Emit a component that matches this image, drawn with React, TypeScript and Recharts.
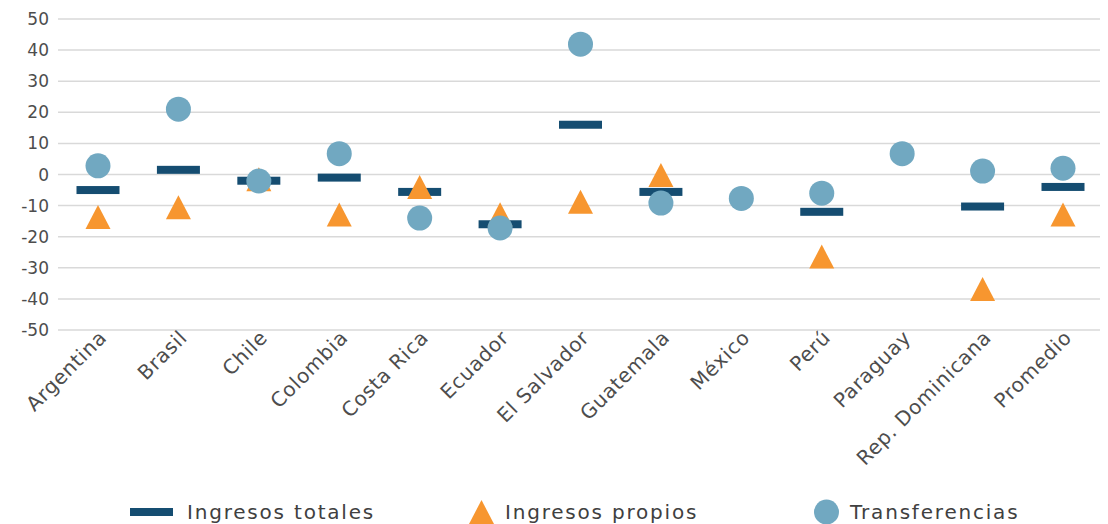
import React from 'react';
import { ComposedChart, Scatter, XAxis, YAxis, CartesianGrid } from 'recharts';

const paises = [
  'Argentina', 'Brasil', 'Chile', 'Colombia', 'Costa Rica', 'Ecuador', 'El Salvador',
  'Guatemala', 'México', 'Perú', 'Paraguay', 'Rep. Dominicana', 'Promedio'
];
const ingresosTotales = [-5, 1.5, -2, -1, -5.6, -16, 16, -5.6, null, -12, null, -10.3, -4];
const ingresosPropios = [-13.7, -10.5, -1.5, -12.9, -4, -12.8, -8.8, -0.2, null, -26.4, null, -36.8, -12.9];
const transferencias = [2.8, 21, -2.1, 6.7, -14, -17.2, 41.9, -9.2, -7.7, -6, 6.7, 1.1, 2];
const yTicks = [50, 40, 30, 20, 10, 0, -10, -20, -30, -40, -50];

const AZUL = '#154d71';
const NARANJA = '#f7962f';
const CELESTE = '#71a8c1';
const FONT = '"DejaVu Sans", sans-serif';

const data = paises.map((p, i) => ({
  pais: p,
  totales: ingresosTotales[i],
  propios: ingresosPropios[i],
  transf: transferencias[i],
}));

const hasValue = (props: any, key: string) =>
  props.payload && props.payload[key] !== null && props.payload[key] !== undefined;

const DashShape = (props: any) => {
  if (!hasValue(props, 'totales')) return null;
  return <rect x={props.cx - 21.5} y={props.cy - 4} width={43} height={8} fill={AZUL} />;
};

const TriangleShape = (props: any) => {
  if (!hasValue(props, 'propios')) return null;
  const { cx, cy } = props;
  return <path d={`M${cx},${cy - 12} L${cx + 12.5},${cy + 12} L${cx - 12.5},${cy + 12} Z`} fill={NARANJA} />;
};

const CircleShape = (props: any) => {
  if (!hasValue(props, 'transf')) return null;
  return <circle cx={props.cx} cy={props.cy} r={12.5} fill={CELESTE} />;
};

const XTick = (props: any) => {
  const { x, y, payload } = props;
  return (
    <g transform={`translate(${x},${y - 9})`}>
      <text
        x={0}
        y={0}
        dy="0.7em"
        textAnchor="end"
        transform="rotate(-45)"
        fill="#4d4d4d"
        fontSize={20}
        letterSpacing={0.7}
        fontFamily={FONT}
      >
        {payload.value}
      </text>
    </g>
  );
};

const legendText: React.CSSProperties = {
  fontFamily: FONT,
  fontSize: 20,
  color: '#404040',
  letterSpacing: 1.8,
  position: 'absolute',
  top: 500,
};

export default function App() {
  return (
    <div style={{ position: 'relative', width: 1108, height: 524, margin: '-8px 0 0 -8px', background: '#fff' }}>
      <ComposedChart
        width={1108}
        height={524}
        data={data}
        margin={{ top: 19, right: 5, left: 0, bottom: 0 }}
      >
        <CartesianGrid vertical={false} stroke="#d9d9d9" strokeWidth={1.5} />
        <XAxis
          dataKey="pais"
          type="category"
          axisLine={false}
          tickLine={false}
          interval={0}
          height={194}
          padding={{ left: 40, right: 40 }}
          tick={<XTick />}
        />
        <YAxis
          type="number"
          domain={[-50, 50]}
          ticks={yTicks}
          width={58}
          axisLine={false}
          tickLine={false}
          tickMargin={3}
          tick={{ fill: '#4d4d4d', fontSize: 17, fontFamily: FONT }}
        />
        <Scatter dataKey="totales" fill={AZUL} shape={DashShape} isAnimationActive={false} />
        <Scatter dataKey="propios" fill={NARANJA} shape={TriangleShape} isAnimationActive={false} />
        <Scatter dataKey="transf" fill={CELESTE} shape={CircleShape} isAnimationActive={false} />
      </ComposedChart>
      <svg style={{ position: 'absolute', left: 0, top: 0 }} width={1108} height={524} pointerEvents="none">
        <rect x={130} y={508} width={43} height={8} fill={AZUL} />
        <path d="M481.5,500 L494,524 L469,524 Z" fill={NARANJA} />
        <circle cx={826.5} cy={512} r={12.5} fill={CELESTE} />
      </svg>
      <div style={{ ...legendText, left: 187 }}>Ingresos totales</div>
      <div style={{ ...legendText, left: 505 }}>Ingresos propios</div>
      <div style={{ ...legendText, left: 850 }}>Transferencias</div>
    </div>
  );
}
